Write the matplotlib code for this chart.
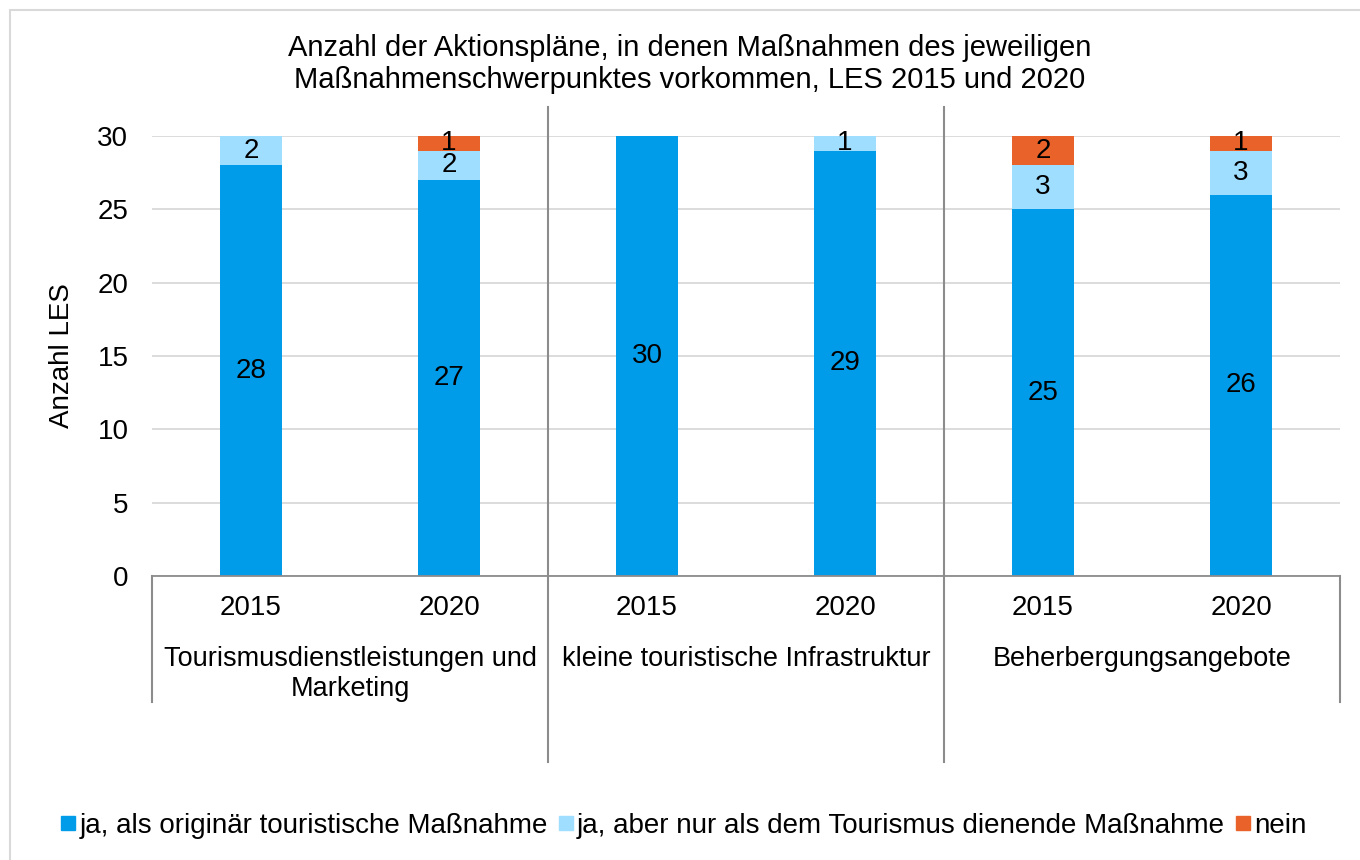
import matplotlib.pyplot as plt
import matplotlib.transforms as mtransforms
from matplotlib.lines import Line2D
from matplotlib.patches import Rectangle
import numpy as np

plt.rcParams['font.family'] = ['Liberation Sans', 'DejaVu Sans']

# ── data ──────────────────────────────────────────────────────────────────
groups = ["Tourismusdienstleistungen und\nMarketing",
          "kleine touristische Infrastruktur",
          "Beherbergungsangebote"]
years = ["2015", "2020", "2015", "2020", "2015", "2020"]
ja_orig = [28, 27, 30, 29, 25, 26]
ja_dien = [2, 2, 0, 1, 3, 3]
nein = [0, 1, 0, 0, 2, 1]
series_names = ["ja, als originär touristische Maßnahme",
                "ja, aber nur als dem Tourismus dienende Maßnahme",
                "nein"]
colors = ["#009CEA", "#A0DEFF", "#E9622A"]

FS = 20

# ── figure ────────────────────────────────────────────────────────────────
fig = plt.figure(figsize=(13.6, 8.6), dpi=100)
ax = fig.add_axes([152/1360, 284/860, 1188/1360, 440/860])

x = np.arange(len(years))
bottom = np.zeros(len(years))
for vals, col in zip([ja_orig, ja_dien, nein], colors):
    vals = np.array(vals, dtype=float)
    ax.bar(x, vals, bottom=bottom, width=0.31, color=col, zorder=2)
    for xi, b, v in zip(x, bottom, vals):
        if v > 0:
            ax.text(xi, b + v / 2, f"{int(v)}", ha="center", va="center",
                    fontsize=FS, zorder=3)
    bottom += vals

ax.set_xlim(-0.5, len(years) - 0.5)
ax.set_ylim(0, 30)
ax.set_yticks(range(0, 31, 5))
ax.yaxis.grid(True, color="#D9D9D9", linewidth=1.3, zorder=0)
ax.set_axisbelow(True)
for s in ["top", "right", "left"]:
    ax.spines[s].set_visible(False)
ax.spines["bottom"].set_color("#8C8C8C")
ax.spines["bottom"].set_linewidth(1.3)
ax.tick_params(axis="y", length=0, pad=17, labelsize=FS)
ax.set_xticks(x)
ax.set_xticklabels(years)
ax.tick_params(axis="x", length=0, pad=14, labelsize=FS)
ax.set_ylabel("Anzahl LES", fontsize=FS, labelpad=16)

# group labels + separators
trans = mtransforms.blended_transform_factory(ax.transData, ax.transAxes)
for i, g in enumerate(groups):
    ax.text(2 * i + 0.5, -0.16, g, transform=trans, ha="center", va="top",
            fontsize=19.5, linespacing=1.2)
for bx in [-0.5, 1.5, 3.5, 5.5]:
    if bx in (-0.5, 5.5):
        y0, y1 = -0.286, 0.0
    else:
        y0, y1 = -0.4227, 1.066
    ax.add_line(Line2D([bx, bx], [y0, y1], transform=trans, color="#8C8C8C",
                       linewidth=1.5, clip_on=False))

# title
fig.text(690/1360, 1 - 64/860,
         "Anzahl der Aktionspläne, in denen Maßnahmen des jeweiligen\n"
         "Maßnahmenschwerpunktes vorkommen, LES 2015 und 2020",
         ha="center", va="center", fontsize=21, linespacing=1.22)

# legend
handles = [Line2D([], [], marker="s", linestyle="none", markersize=10,
                  markerfacecolor=c, markeredgecolor=c) for c in colors]
fig.legend(handles, series_names, loc="center", bbox_to_anchor=(684/1360, 1 - 826/860),
           ncol=3, frameon=False, fontsize=FS, handlelength=0.5,
           handletextpad=0.15, columnspacing=0.4)

# outer border
fig.patches.append(Rectangle((10/1360, -0.05), 1.1, 1 - 10/860 + 0.05,
                             transform=fig.transFigure, fill=False,
                             edgecolor="#D9D9D9", linewidth=1.5))

fig.savefig("out.png", dpi=100)
